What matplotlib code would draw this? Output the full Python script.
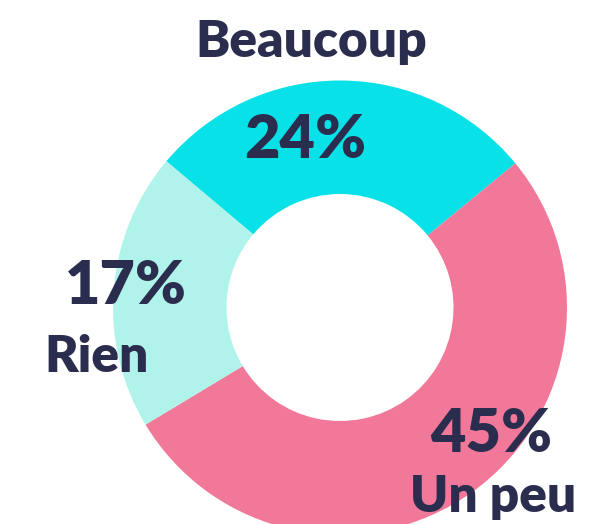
import matplotlib.pyplot as plt

# donut data (share of answers, %)
labels = ["Beaucoup", "Un peu", "Rien"]
values = [24, 45, 17]
colors = ["#07e1e7", "#f17898", "#aff3ea"]
text_color = "#2b2d4e"

W, H = 615, 524
fig = plt.figure(figsize=(W / 100, H / 100), dpi=100)
ax = fig.add_axes([0, 0, 1, 1])

cx, cy, R = 340, 307.5, 227
ax.pie(values, colors=colors, startangle=-139.9, counterclock=True,
       radius=R, center=(cx, cy), frame=True,
       wedgeprops=dict(width=R * 0.5, linewidth=0))
ax.set_xlim(0, W)
ax.set_ylim(H, 0)
ax.set_aspect("equal")
ax.axis("off")

font = dict(family=["Lato", "DejaVu Sans"], weight="heavy", color=text_color)
pct_size, lab_size = 44, 37

# (x centre, baseline) of each value and label, in pixels
pct_pos = {"Beaucoup": (305, 158), "Un peu": (491, 452), "Rien": (126, 304)}
lab_pos = {"Beaucoup": (311, 57), "Un peu": (493, 512), "Rien": (97, 372)}

for lab, val in zip(labels, values):
    x, y = pct_pos[lab]
    ax.text(x, y, f"{val}%", ha="center", va="baseline", fontsize=pct_size, **font)
    x, y = lab_pos[lab]
    ax.text(x, y, lab, ha="center", va="baseline", fontsize=lab_size, **font)

fig.savefig("out.png", dpi=100)
